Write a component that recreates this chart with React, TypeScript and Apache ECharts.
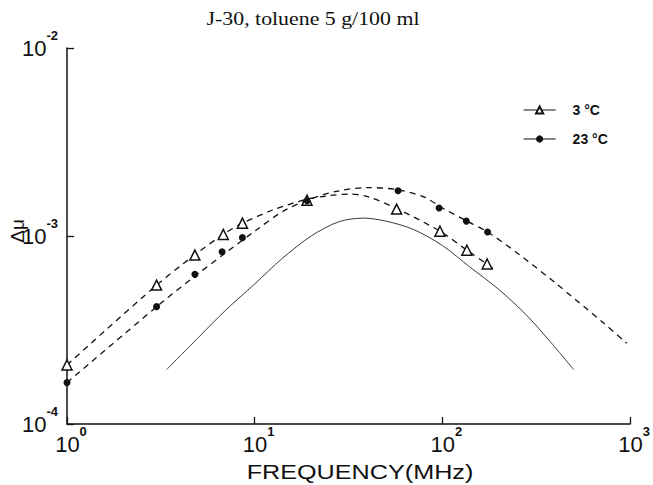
import React, { useEffect, useRef } from "react";
import * as echarts from "echarts";

const titleText = "J-30, toluene 5 g/100 ml";
const xAxisTitle = "FREQUENCY(MHz)";
const yAxisTitle = "Δμ";
const legendNames = ["3 °C", "23 °C"];

// measured points (MHz, Δμ)
const t3Freq = [1, 3, 4.8, 6.8, 8.6, 19, 57, 97, 135, 173];
const t3Dmu = [2.06e-4, 5.48e-4, 7.92e-4, 1.02e-3, 1.17e-3, 1.55e-3, 1.39e-3, 1.06e-3, 8.4e-4, 7.1e-4];
const t23Freq = [1, 3, 4.8, 6.7, 8.6, 19, 58, 96, 134, 174];
const t23Dmu = [1.66e-4, 4.21e-4, 6.25e-4, 8.24e-4, 9.8e-4, 1.54e-3, 1.74e-3, 1.41e-3, 1.2e-3, 1.05e-3];

// dashed fitted curves
const fit3Freq = [1, 3, 4.8, 6.8, 8.6, 12.6, 19, 25, 32, 40, 57, 97, 135, 173, 190];
const fit3Dmu = [2.06e-4, 5.48e-4, 7.94e-4, 1.02e-3, 1.17e-3, 1.38e-3, 1.57e-3, 1.64e-3, 1.67e-3, 1.62e-3, 1.4e-3, 1.06e-3, 8.41e-4, 7.08e-4, 6.6e-4];
const fit23Freq = [1, 3, 5, 7.1, 10, 14.1, 20, 28.2, 40, 56, 79, 100, 135, 174, 250, 400, 725, 960];
const fit23Dmu = [1.66e-4, 4.2e-4, 6.31e-4, 8.22e-4, 1.06e-3, 1.35e-3, 1.58e-3, 1.74e-3, 1.81e-3, 1.77e-3, 1.62e-3, 1.41e-3, 1.2e-3, 1.05e-3, 8.13e-4, 5.62e-4, 3.43e-4, 2.69e-4];

// solid curve
const calcFreq = [3.4, 5, 7, 10, 14, 20, 28, 38, 50, 70, 100, 140, 200, 280, 380, 500];
const calcDmu = [1.95e-4, 2.88e-4, 4.03e-4, 5.56e-4, 7.59e-4, 1.0e-3, 1.19e-3, 1.245e-3, 1.2e-3, 1.084e-3, 8.9e-4, 6.84e-4, 5.19e-4, 3.8e-4, 2.7e-4, 1.95e-4];

const pairs = (xs: number[], ys: number[]) => xs.map((x, i) => [x, ys[i]]);

const INK = "#111";
const fmt = (v: number) => `{b|10}{s|${Math.round(Math.log10(v))}}`;

export default function App() {
  const ref = useRef<HTMLDivElement>(null);
  useEffect(() => {
    if (!ref.current) return;
    const chart = echarts.init(ref.current, null, { renderer: "svg" });
    const sup = { fontSize: 13, fontWeight: "bold", fontFamily: "Liberation Sans", color: INK, verticalAlign: "top", lineHeight: 39 };
    const richY = {
      b: { fontSize: 22, fontFamily: "Liberation Sans", color: INK, lineHeight: 24 },
      s: sup,
    };
    const richX = {
      b: { fontSize: 22, fontFamily: "Liberation Sans", color: INK, lineHeight: 24, padding: [0, 0, 0, 8] },
      s: sup,
    };
    const axisCommon = {
      type: "log",
      logBase: 10,
      axisLine: { lineStyle: { color: INK, width: 1.5 } },
      axisTick: { inside: true, length: 7, lineStyle: { color: INK, width: 1.3 } },
      splitLine: { show: false },
      minorTick: { show: false },
    };
    const dashed = { color: INK, width: 1.3, type: [6, 5] };
    chart.setOption({
      animation: false,
      backgroundColor: "#fff",
      grid: { left: 67, right: 16, top: 48, bottom: 61, containLabel: false },
      xAxis: {
        ...axisCommon,
        min: 1,
        max: 1000,
        axisLabel: { formatter: fmt, rich: richX, margin: 1 },
      },
      yAxis: {
        ...axisCommon,
        min: 1e-4,
        max: 1e-2,
        axisLabel: { formatter: fmt, rich: richY, margin: 9 },
      },
      legend: {
        orient: "vertical",
        left: 518,
        top: 98,
        itemWidth: 32,
        itemHeight: 9,
        itemGap: 15,
        selectedMode: false,
        data: legendNames,
        textStyle: { fontFamily: "Liberation Sans", fontWeight: "bold", fontSize: 14, color: INK, padding: [0, 0, 0, 12] },
        lineStyle: { width: 1.2, color: INK, type: "solid", opacity: 1 },
      },
      graphic: [
        {
          type: "text", x: 313, y: 19, scaleX: 1.15,
          style: { text: titleText, fontSize: 19, fontFamily: "Liberation Serif", fill: INK, align: "center", verticalAlign: "middle", textAlign: "center", textVerticalAlign: "middle" },
        },
        {
          type: "text", x: 360, y: 472, scaleX: 1.2,
          style: { text: xAxisTitle, fontSize: 21, fontFamily: "Liberation Sans", fill: INK, align: "center", verticalAlign: "middle", textAlign: "center", textVerticalAlign: "middle" },
        },
        {
          type: "text", x: 17, y: 231, rotation: Math.PI / 2,
          style: { text: yAxisTitle, fontSize: 19, fontFamily: "Liberation Sans", fill: INK, align: "center", verticalAlign: "middle", textAlign: "center", textVerticalAlign: "middle" },
        },
      ],
      series: [
        {
          type: "line", name: "fit3", data: pairs(fit3Freq, fit3Dmu), symbol: "none", smooth: 0.3, silent: true,
          lineStyle: dashed, z: 2,
        },
        {
          type: "line", name: "fit23", data: pairs(fit23Freq, fit23Dmu), symbol: "none", smooth: 0.3, silent: true,
          lineStyle: dashed, z: 2,
        },
        {
          type: "line", name: "calc", data: pairs(calcFreq, calcDmu), symbol: "none", smooth: 0.3, silent: true,
          lineStyle: { color: "#222", width: 0.9 }, z: 2,
        },
        {
          type: "line", name: legendNames[0], data: pairs(t3Freq, t3Dmu), symbol: "triangle", symbolSize: 10,
          showAllSymbol: true, lineStyle: { width: 0 },
          itemStyle: { color: "#fff", borderColor: INK, borderWidth: 1.5 }, z: 5,
        },
        {
          type: "line", name: legendNames[1], data: pairs(t23Freq, t23Dmu), symbol: "circle", symbolSize: 7,
          showAllSymbol: true, lineStyle: { width: 0 },
          itemStyle: { color: INK, borderColor: INK, borderWidth: 0 }, z: 5,
        },
      ],
    });
    return () => chart.dispose();
  }, []);
  return <div ref={ref} style={{ width: 653, height: 485, position: "absolute", left: 0, top: 0 }} />;
}
